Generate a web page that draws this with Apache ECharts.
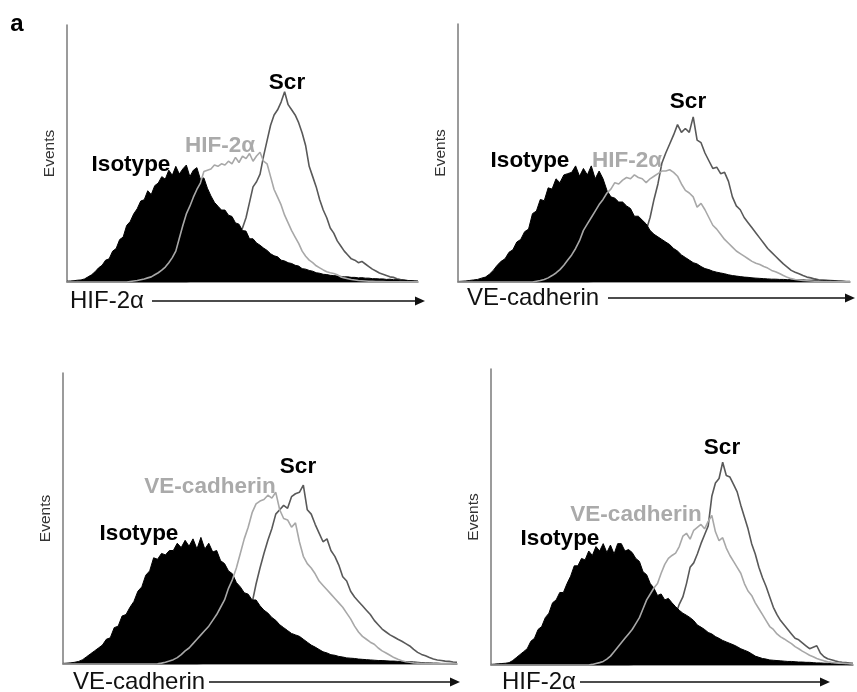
<!DOCTYPE html>
<html><head><meta charset="utf-8">
<script src="https://cdn.jsdelivr.net/npm/echarts@6/dist/echarts.min.js"></script>
<style>html,body{margin:0;padding:0;background:#fff}#c{width:857px;height:692px}</style>
</head><body><div id="c"></div>
<script>
// fluorescence channel (log scale position 0..100)
const channels = [0,1,2,3,4,5,6,7,8,9,10,11,12,13,14,15,16,17,18,19,20,21,22,23,24,25,26,27,28,29,30,31,32,33,34,35,36,37,38,39,40,41,42,43,44,45,46,47,48,49,50,51,52,53,54,55,56,57,58,59,60,61,62,63,64,65,66,67,68,69,70,71,72,73,74,75,76,77,78,79,80,81,82,83,84,85,86,87,88,89,90,91,92,93,94,95,96,97,98,99,100];

// Panel 1: HIF-2α staining
const p1Isotype = [0.3,0.4,0.5,0.7,0.8,1.2,2,2.8,4,5.5, 6.5,8.5,9,12,13,16.5,17.5,22,23.5,26.5, 28.5,31.5,32,35.5,34,37.5,38.5,41,40,43.5, 41.5,45,42,44,45.5,41,43.5,44.5,40,40.5, 36.5,33.5,31,29.5,28,28,26,25.5,23,22.5, 20,19.8,16.8,16.8,15.2,14.3,13.2,12.3,11,10.2, 9.8,8.5,8.2,7.5,7.2,6.5,6.2,5.2,5,4.5, 4.2,3.6,3.4,3,2.9,2.6,2.5,2.3,2.2,2, 2,1.8,1.8,1.6,1.7,1.5,1.5,1.3,1.3,1.2, 1.2,1,1.1,0.9,0.9,0.7,0.7,0.5,0.5,0.4, 0.3];
const p1Knock = [0,0,0,0,0,0,0,0,0,0, 0,0,0,0,0,0,0,0,0.2,0.4, 0.6,0.9,1.2,1.6,2,2.8,3.6,4.6,5.8,7.5, 9.5,12,17,22,26.5,29.5,33,36,38.5,43, 43.5,44,45.5,45,46,45.5,47,46,48.5,46.5, 49,48,50,47,49,50.5,47,46,41,36, 33,30,26,23,20,17.5,15,12,10,8.5, 7.5,6.3,5.5,4.7,4,3.6,3.3,2.8,2,1.6, 1.3,1,0.8,0.6,0.5,0.4,0.3,0.3,0.2,0.2, 0.2,0.1,0.1,0.1,0.1,0.1,0.1,0.1,0.1,0.1, 0.1];
const p1Scr = [0,0,0,0,0,0,0,0,0,0, 0,0,0,0,0,0,0,0,0,0, 0,0,0,0,0,0,0,0,0,0, 0,0,0,0,0,0.3,0.5,0.8,1.2,1.8, 2.5,3.5,4.5,6,7.5,9,11,13,15.5,19, 21,25,31,37,39,42,49,55,61,65, 67,70,74,69,67,65,62,58,53,45, 41,37,32,28,25,21,19,16,14,12, 10.5,9,8.5,7.5,8,7,6,5,4.3,3.5, 3,2.5,2,1.8,1.3,1,0.8,0.6,0.5,0.4, 0.3];

// Panel 2: VE-cadherin staining, HIF-2α knockdown
const p2Isotype = [0.2,0.3,0.4,0.6,0.8,1,1.5,1.9,3,4.5, 6.5,8,9,11.5,12.5,15.5,16.5,19.5,20.5,26.5, 27.5,32,31.5,36.5,36,40,38.5,41.5,42,42.5, 45,41,44,41.5,45,40,43,40,35.5,33, 32.5,31,31,29.5,28.5,25.5,25.5,24,22.5,20, 18.5,17.5,16.5,15.5,14.5,13,12,10.5,9.5,8.5, 7.5,7,6,5.2,4.8,4.2,3.8,3.5,3.2,2.8, 2.5,2.3,2.1,1.9,1.8,1.6,1.5,1.4,1.3,1.2, 1.1,1.1,1,1,0.9,0.9,0.9,0.8,0.8,0.7, 0.7,0.7,0.6,0.6,0.6,0.5,0.4,0.3,0.3,0.2, 0.2];
const p2Knock = [0,0,0,0,0,0,0,0,0,0, 0,0,0,0,0,0,0,0,0,0, 0.3,0.6,1,1.6,2.5,3.5,4.8,6.5,8.5,10.5, 13,16,20,22.5,25,27.5,30,32,34.5,36, 38.5,38,39.5,40.5,40,41.5,40.5,40,38.5,40, 41,42,43,43,43.5,42.5,41,38,35.5,34.5, 33,29,30.5,28,25,22,20.5,18.5,16.5,15, 13.5,12,11,10,9,8,7.3,6.8,6,5.4, 4.5,4,3.3,2.5,1.8,1.3,1,0.8,0.6,0.5, 0.4,0.3,0.3,0.2,0.2,0.2,0.1,0.1,0.1,0.1, 0.1];
const p2Scr = [0,0,0,0,0,0,0,0,0,0, 0,0,0,0,0,0,0,0,0,0, 0,0,0,0,0,0,0,0,0,0, 0,0,0,0,0.2,0.4,0.7,1,1.5,2.2, 3,4,5.2,6.5,8,10,12.5,16,20,25, 32,38,46,50,53.5,57,61,58,59.5,58, 64,55,54,50,47,44,44.5,42,42.5,39, 33,29.5,28,25,23,21,19,17,15,13, 11.5,10,8.5,7,5.8,4.5,3.8,3.2,2.5,1.9, 1.6,1.2,0.9,0.8,0.7,0.6,0.5,0.4,0.3,0.2, 0.2];

// Panel 3: VE-cadherin staining, VE-cadherin knockdown
const p3Isotype = [0.2,0.3,0.4,0.6,0.9,1.5,2.5,3.5,4.5,5.5, 6.5,8.5,9,12.5,13,16.5,17,19.5,21.5,25, 26.5,30.5,32,36.5,36,38,37.5,39,39,41.5, 40,42.5,40.5,43,39.5,43.5,39.5,41.5,38.5,39, 35.5,34.5,32,31,28,26.5,24.5,24,22,22, 20,18.5,17.5,16,15,13.5,12.5,11.5,10.5,10, 9.5,8.5,7.5,6.5,5.8,5,4.2,3.8,3.2,3, 2.6,2.4,2.1,2,1.9,1.7,1.6,1.5,1.4,1.3, 1.2,1.2,1.1,1,1,0.9,0.9,0.8,0.8,0.7, 0.6,0.5,0.4,0.4,0.3,0.3,0.2,0.2,0.2,0.1, 0.1];
const p3Knock = [0,0,0,0,0,0,0,0,0,0, 0,0,0,0,0,0,0,0,0,0, 0,0,0,0,0.1,0.3,0.6,1,1.5,2.2, 3.2,4.5,5.5,7,8.5,10,11.5,13,15,17, 19.5,22,26,29,33,38,43,47,52,55, 56,56.5,58,57,59,53,50,49.5,47,48.5, 42,37,34.5,33,31,28.5,27,25.5,24,22.5, 21,19.5,17.5,15.5,13,11,9.5,8.5,7.5,6.8, 5.5,4.5,3.8,3,2.2,1.6,1.1,0.8,0.6,0.4, 0.3,0.2,0.2,0.2,0.1,0.1,0.1,0.1,0.1,0.1, 0.1];
const p3Scr = [0,0,0,0,0,0,0,0,0,0, 0,0,0,0,0,0,0,0,0,0, 0,0,0,0,0,0,0,0,0,0, 0,0,0,0,0,0.2,0.4,0.7,1,1.5, 2.2,3.2,4.5,6,8,10,13,16.5,21,27.5, 33,38,42.5,46.5,51.5,53,54.5,53.5,57.5,58.5, 59,61.5,53,51.5,48,45,42,43,39,37, 34,30,28.5,25,23,21.5,20,18.5,17,15, 13.5,12,11,10,9.3,8.5,7.8,7,6.2,5, 4,3.3,2.8,2.2,1.7,1.4,1.2,1,0.9,0.7, 0.6];

// Panel 4: HIF-2α staining, VE-cadherin knockdown
const p4Isotype = [0.2,0.3,0.4,0.5,0.6,0.8,1.5,2.5,3.5,4.5, 5.5,8,9,12,13,16,17.5,21,22,24.5, 24.5,27.5,30,33.5,33.5,36,35.5,38.5,37,40, 38.5,41,38,40.5,37.5,41,41,38.5,39,38, 36,35,31.5,30.5,27.5,26,23.5,24,22,22.5, 21,19.7,18.5,17.5,16.8,16,15,13.5,12.8,12, 11,10.5,9.6,9,8.3,7.8,7.3,6.8,6.2,5.5, 5,4.5,3.8,3,2.6,2.2,2,1.7,1.6,1.5, 1.4,1.3,1.2,1.2,1.1,1,1,0.9,0.9,0.8, 0.7,0.7,0.6,0.6,0.5,0.4,0.3,0.2,0.2,0.1, 0.1];
const p4Knock = [0,0,0,0,0,0,0,0,0,0, 0,0,0,0,0,0,0,0,0,0, 0,0,0,0,0,0,0,0,0.2,0.5, 0.8,1.2,2,3,4.5,6,7.5,9,10.5,12, 14,16,19,22,24,26,27.5,31,34,36, 37,37.8,40,43.5,44.5,42.5,45.5,46.5,47.5,46, 48.5,50.5,45,42,43,39.5,37,35,33,31, 27.5,25,23.5,21,19,17,15,13,12,10.5, 9.5,8.8,8,7.2,6.2,5.5,4.7,4,3.3,2.8, 2.2,1.8,1.4,1.1,0.9,0.8,0.7,0.6,0.5,0.4, 0.3];
const p4Scr = [0,0,0,0,0,0,0,0,0,0, 0,0,0,0,0,0,0,0,0,0, 0,0,0,0,0,0,0,0,0,0, 0,0,0,0,0,0,0,0,0,0.2, 0.4,0.7,1,1.5,2.2,3,4.2,5.5,7.5,10, 13,17,20.5,23,27.5,33,34.5,37.5,41,44, 47,57,61.5,63,68.5,64,63.5,61,58.5,54, 50,46,41,37.5,33,29.5,26.5,23,19.5,17, 15,13.5,12,10.5,9,8.5,7.5,6.5,5.5,6, 6.5,4,2.8,2.1,1.8,1.4,1.1,0.9,0.8,0.7, 0.6];

const axisTitles = ['HIF-2α', 'VE-cadherin', 'VE-cadherin', 'HIF-2α'];
const knockNames = ['HIF-2α', 'HIF-2α', 'VE-cadherin', 'VE-cadherin'];
const isoSets = [p1Isotype, p2Isotype, p3Isotype, p4Isotype];
const knockSets = [p1Knock, p2Knock, p3Knock, p4Knock];
const scrSets = [p1Scr, p2Scr, p3Scr, p4Scr];

const FONT = "'Liberation Sans', Arial, sans-serif";
const grids = [
  {left:67, top:25, width:351, height:257},
  {left:458, top:24, width:392, height:258},
  {left:63, top:373, width:394, height:291},
  {left:491, top:369, width:362, height:296}
];
// label positions [Isotype, knock, Scr] and bottom title/arrow
const labelPos = [
  {iso:[131,165], ko:[220,146], scr:[287,83], title:[70,301], arrow:[152,425,301]},
  {iso:[530,161], ko:[627,161], scr:[688,102], title:[467,298], arrow:[608,855,298]},
  {iso:[139,534], ko:[210,487], scr:[298,467], title:[73,682], arrow:[209,460,682]},
  {iso:[560,539], ko:[636,515], scr:[722,448], title:[502,682], arrow:[580,830,682]}
];

const pairs = arr => channels.map((c, i) => [c, arr[i]]);

const xAxis = [], yAxis = [], series = [], graphic = [];
grids.forEach((g, i) => {
  xAxis.push({gridIndex:i, type:'value', min:0, max:100,
    axisLine:{show:true, lineStyle:{color:'#7a7a7a', width:1.5}},
    axisTick:{show:false}, axisLabel:{show:false}, splitLine:{show:false}});
  yAxis.push({gridIndex:i, type:'value', min:0, max:100,
    name:'Events', nameLocation:'middle', nameRotate:90, nameGap:9,
    nameTextStyle:{fontFamily:FONT, fontSize:15.5, color:'#333'},
    axisLine:{show:true, lineStyle:{color:'#7a7a7a', width:1.5}},
    axisTick:{show:false}, axisLabel:{show:false}, splitLine:{show:false}});
  series.push({name:'Scr', type:'line', xAxisIndex:i, yAxisIndex:i, data:pairs(scrSets[i]),
    showSymbol:false, z:2, lineStyle:{color:'#595959', width:1.6}});
  series.push({name:'Isotype', type:'line', xAxisIndex:i, yAxisIndex:i, data:pairs(isoSets[i]),
    showSymbol:false, z:3, lineStyle:{color:'#000', width:1}, areaStyle:{color:'#000', opacity:1}});
  series.push({name:knockNames[i], type:'line', xAxisIndex:i, yAxisIndex:i, data:pairs(knockSets[i]),
    showSymbol:false, z:4, lineStyle:{color:'#a8a8a8', width:1.6}});

  const L = labelPos[i];
  const txt = (t, p, fill, size, weight, align) => ({type:'text', x:p[0], y:p[1], z:10,
    style:{text:t, fill:fill, font:`${weight} ${size}px ${FONT}`, textAlign:align||'center', textVerticalAlign:'middle'}});
  graphic.push(txt('Isotype', L.iso, '#000', 22.5, 'bold'));
  graphic.push(txt(knockNames[i], L.ko, '#aaaaaa', 22.5, 'bold'));
  graphic.push(txt('Scr', L.scr, '#000', 22.5, 'bold'));
  graphic.push(txt(axisTitles[i], L.title, '#111', 24, 'normal', 'left'));
  const a = L.arrow;
  graphic.push({type:'line', z:10, shape:{x1:a[0], y1:a[2], x2:a[1]-6, y2:a[2]}, style:{stroke:'#111', lineWidth:1.5}});
  graphic.push({type:'polygon', z:10, shape:{points:[[a[1],a[2]],[a[1]-10,a[2]-4.5],[a[1]-10,a[2]+4.5]]}, style:{fill:'#111'}});
});
graphic.push({type:'text', x:17, y:24, style:{text:'a', fill:'#000', font:`bold 24px ${FONT}`, textAlign:'center', textVerticalAlign:'middle'}});

const chart = echarts.init(document.getElementById('c'));
chart.setOption({
  animation:false,
  backgroundColor:'#fff',
  grid: grids,
  xAxis, yAxis, series, graphic
});
</script>
</body></html>
